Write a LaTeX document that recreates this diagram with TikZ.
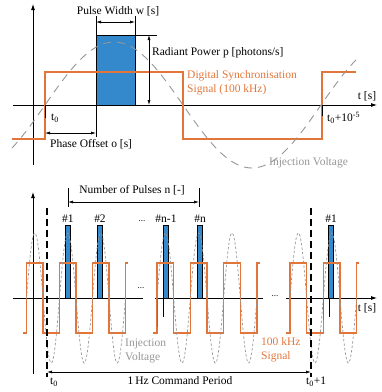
\documentclass[tikz,border=0pt]{standalone}
\usepackage{fontspec}
\setmainfont{Liberation Serif}
\usetikzlibrary{arrows.meta}
\definecolor{sigorange}{RGB}{226,118,58}
\definecolor{pulseblue}{RGB}{52,136,204}
\definecolor{injgray}{RGB}{150,150,150}
\begin{document}
\begin{tikzpicture}[x=1pt,y=-1pt,
  font=\fontsize{11.5}{13.5}\selectfont,
  axisline/.style={line width=0.8pt,black},
  axarrow/.style={axisline,-{Latex[length=6pt,width=4pt]}},
  dimarrow/.style={line width=0.6pt,{Latex[length=5pt,width=3pt]}-{Latex[length=5pt,width=3pt]}},
  tickline/.style={line width=0.7pt,black},
  sig/.style={sigorange,line width=1.1pt,line join=miter},
  pulsebox/.style={fill=pulseblue,draw=black,line width=0.6pt},
  injtop/.style={injgray,line width=0.9pt,dash pattern=on 8pt off 6pt},
  injbot/.style={injgray,line width=0.7pt,dash pattern=on 2.5pt off 2pt},
  lbl/.style={inner sep=0pt},
  olbl/.style={inner sep=0pt,text=sigorange,align=left},
  glbl/.style={inner sep=0pt,text=injgray,align=left},
  dotslbl/.style={inner sep=0pt,font=\fontsize{9}{10}\selectfont},
  cmdline/.style={line width=1.1pt,black,dash pattern=on 7pt off 4pt}]
\useasboundingbox (0,0) rectangle (382,392);

% ================= TOP DIAGRAM =================
\coordinate (tyb) at (33,165); \coordinate (tyt) at (33,4);
\coordinate (txl) at (13,105); \coordinate (txr) at (377,105);
\draw[axarrow] (tyb) -- (tyt);
\draw[axarrow] (txl) -- (txr);

% pulse
\draw[pulsebox] (96,35) rectangle (135,105);

% synchronisation signal
\draw[sig] (12,139) -- (45,139) -- (45,72) -- (183,72) -- (183,139) -- (322,139) -- (322,72) -- (356,72);

% injection voltage
\draw[injtop] plot[domain=12:356,samples=120] (\x,{105-63*sin(1.30435*(\x-45))});

% ticks t0 and t0+1e-5
\draw[tickline,line width=1pt] (45,105) -- (45,118);
\draw[tickline,line width=1pt] (322,105) -- (322,116);

% pulse width
\coordinate (pwl) at (96,22); \coordinate (pwr) at (135,22);
\draw[tickline] (96,16) -- (96,35);
\draw[tickline] (135,16) -- (135,35);
\draw[dimarrow] (pwl) -- (pwr);
\node[lbl] (pwtext) at (118,11) {Pulse Width w [s]};

% radiant power
\coordinate (rpt) at (149,35); \coordinate (rpb) at (149,105);
\draw[tickline] (135,35) -- (157,35);
\draw[dimarrow] (rpt) -- (rpb);
\node[lbl,anchor=west] (rptext) at (152,53) {Radiant Power p [photons/s]};

% phase offset
\coordinate (pol) at (45,133); \coordinate (por) at (96,133);
\draw[tickline] (96,105) -- (96,137);
\draw[dimarrow] (pol) -- (por);
\node[lbl,anchor=west] (potext) at (50,144) {Phase Offset o [s]};

% labels
\node[olbl,anchor=west] (dstext) at (187,82.5) {Digital Synchronisation\\Signal (100 kHz)};
\node[lbl] (ttop) at (367,96) {t [s]};
\node[lbl,anchor=west] (t0top) at (51,118) {t\textsubscript{0}};
\node[lbl,anchor=west] (t1top) at (327,118) {t\textsubscript{0}+10\textsuperscript{-5}};
\node[glbl,anchor=west] (ivtop) at (269,163) {Injection Voltage};

% ================= BOTTOM DIAGRAM =================
\coordinate (byb) at (33,374); \coordinate (byt) at (33,192);
\draw[axarrow] (byb) -- (byt);
\draw[axisline] (13,298) -- (143,298);
\draw[axisline] (155,298) -- (263,298);
\coordinate (bxl) at (286,298); \coordinate (bxr) at (377,298);
\draw[axarrow] (bxl) -- (bxr);

% pulses
\draw[pulsebox] (65,225) rectangle (70,298);
\draw[pulsebox] (97,225) rectangle (102,298);
\draw[pulsebox] (163,225) rectangle (168,298);
\draw[pulsebox] (197,225) rectangle (202,298);
\draw[pulsebox] (328,225) rectangle (333,298);

% square waves
\draw[sig] (23,333) -- (26.5,333) -- (26.5,263) -- (43,263) -- (43,333) -- (59.5,333) -- (59.5,263) -- (76,263) -- (76,333) -- (92.5,333) -- (92.5,263) -- (109,263) -- (109,333) -- (125.5,333) -- (125.5,263) -- (128,263);
\draw[sig] (153,333) -- (157,333) -- (157,263) -- (173.7,263) -- (173.7,333) -- (190.3,333) -- (190.3,263) -- (207,263) -- (207,333) -- (223.7,333) -- (223.7,263) -- (240.3,263) -- (240.3,333) -- (257,333) -- (257,263) -- (259.5,263);
\draw[sig] (286,333) -- (290,333) -- (290,263) -- (306.7,263) -- (306.7,333) -- (323.3,333) -- (323.3,263) -- (340,263) -- (340,333) -- (356.7,333) -- (356.7,263) -- (359,263);

% injection voltage
\draw[injbot] plot[domain=26.5:125.5,samples=150] (\x,{298-65*sin(10.90909*(\x-26.5))});
\draw[injbot] plot[domain=157:257,samples=150] (\x,{298-65*sin(10.8*(\x-157))});
\draw[injbot] plot[domain=290:356.7,samples=100] (\x,{298-65*sin(10.8*(\x-290))});

% ticks below axis
\draw[line width=0.9pt,black!55] (157,298) -- (157,327);
\draw[tickline,line width=0.9pt] (163,298) -- (163,317);
\draw[line width=0.9pt,black!55] (323.3,298) -- (323.3,320);
\draw[tickline,line width=0.9pt] (329,298) -- (329,317);

% pulse labels
\node[lbl] (p1) at (68,219) {\#1};
\node[lbl] (p2) at (100,219) {\#2};
\node[lbl] (pn1) at (166,219) {\#n-1};
\node[lbl] (pn) at (200,219) {\#n};
\node[lbl] (p1b) at (331,219) {\#1};
\node[dotslbl] (d1) at (142,221) {...};
\node[dotslbl] (d2) at (141,288) {...};
\node[dotslbl] (d3) at (275,296) {...};

% number of pulses
\coordinate (npl) at (68,202); \coordinate (npr) at (199,202);
\draw[tickline] (68,188) -- (68,207);
\draw[tickline] (199,188) -- (199,207);
\draw[dimarrow] (npl) -- (npr);
\node[lbl] (nptext) at (132,190) {Number of Pulses n [-]};

% command period
\draw[cmdline] (47,208) -- (47,377);
\draw[cmdline] (311,208) -- (311,377);
\coordinate (cpl) at (47,372); \coordinate (cpr) at (311,372);
\draw[dimarrow] (cpl) -- (cpr);
\node[lbl] (cptext) at (180,381) {1\,Hz Command Period};
\node[lbl,anchor=west] (t0bot) at (50,382) {t\textsubscript{0}};
\node[lbl,anchor=west] (t1bot) at (306,382) {t\textsubscript{0}+1};

% labels
\node[glbl,anchor=west] (ivbot) at (125,351) {Injection\\Voltage};
\node[olbl,anchor=west] (sigbot) at (261,349.5) {100 kHz\\Signal};
\node[lbl] (tbot) at (367,308) {t [s]};
\end{tikzpicture}
\end{document}
